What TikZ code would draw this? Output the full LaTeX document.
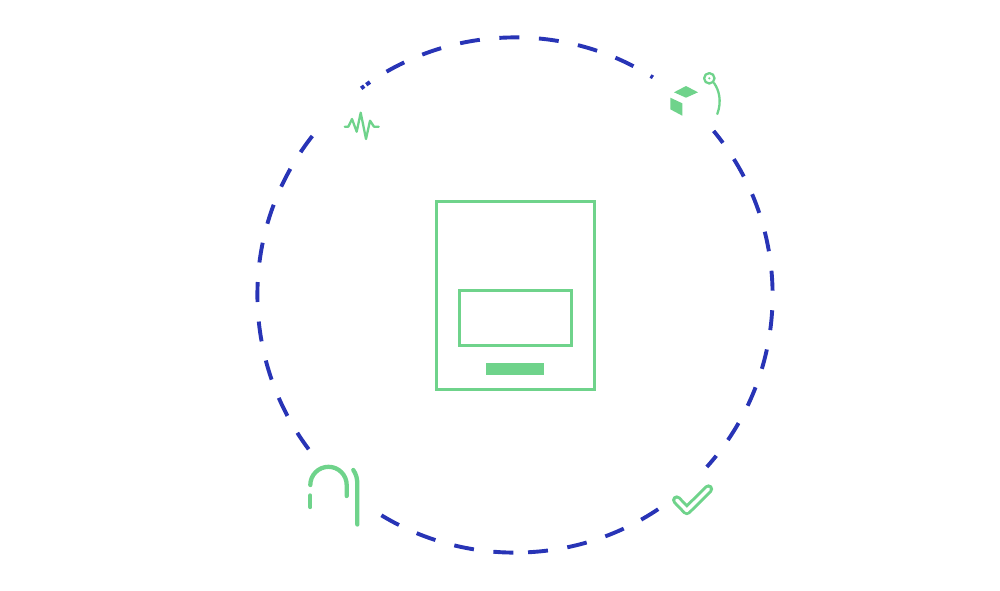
\documentclass[tikz,border=0pt]{standalone}
\definecolor{ringblue}{RGB}{40,52,182}
\definecolor{mintgreen}{RGB}{111,211,139}
\tikzset{
	ring/.style={draw=ringblue,line width=3.9pt,dash pattern=on 20pt off 19.6pt},
	ringmask/.style={draw=white,line width=8pt},
	box/.style={draw=mintgreen,line width=3pt},
	solidgreen/.style={fill=mintgreen,draw=none},
	thinicon/.style={draw=mintgreen,line width=2.3pt,line cap=round,line join=round},
	thickicon/.style={draw=mintgreen,line width=4.3pt,line cap=round}
}
\begin{document}
\begin{tikzpicture}[x=1pt,y=-1pt]
	\useasboundingbox (0,0) rectangle (1000,590);
	\coordinate (hub) at (515,295);
	% dashed ring, starts at the seam near the bottom
	\draw[ring] (hub) ++(87.1:257.6) arc[start angle=87.1,end angle=-270,radius=257.6];
	% gaps in the ring behind the icons
	\foreach \from/\to in {-39.6/-57.6,-125.3/-125.8,-126.7/-141.4,-218.5/-238.5,41.9/54}
	\draw[ringmask] (hub) ++(\from:257.6) arc[start angle=\from,end angle=\to,radius=257.6];
	% panel in the middle
	\draw[box] (436,201.7) rectangle (594.3,389.3);
	\draw[box] (459,290.7) rectangle (571.5,345.3);
	\fill[solidgreen] (486.3,363) rectangle (544,374.7);
	% pulse
	\draw[thinicon] (344.7,126.7) -- (348.3,126.7) -- (352,119) -- (356.7,131.7) -- (360.7,112.7)
	-- (366,139) -- (370,120.7) -- (374,126.7) -- (378.7,126.7);
	% cube and pin
	\fill[solidgreen] (674,92.3) -- (686,86) -- (698,92.3) -- (686,97.7) -- cycle;
	\fill[solidgreen] (670.3,97.7) -- (682.3,103.3) -- (682.3,115.7) -- (670.3,109.3) -- cycle;
	\draw[thinicon] (709.3,78.3) circle (5.2);
	\fill[solidgreen] (709.3,78.3) circle (1.2);
	\draw[thinicon] (714,83) .. controls (719,90) and (722,101) .. (717.3,114);
	% arch
	\draw[thickicon] (310.3,485) arc[start angle=180,end angle=360,radius=18.2] -- (346.7,496);
	\draw[thickicon] (310.3,495.5) -- (310.3,507);
	\draw[thickicon] (353.3,470) .. controls (356,474) and (357.3,478) .. (357.3,484) -- (357.3,524.5);
	% check mark
	\draw[draw=mintgreen,line width=3pt,double=white,double distance=3.4pt,line cap=round,line join=round]
	(676.7,500) -- (686.8,510.5) -- (708.5,489);
\end{tikzpicture}
\end{document}
